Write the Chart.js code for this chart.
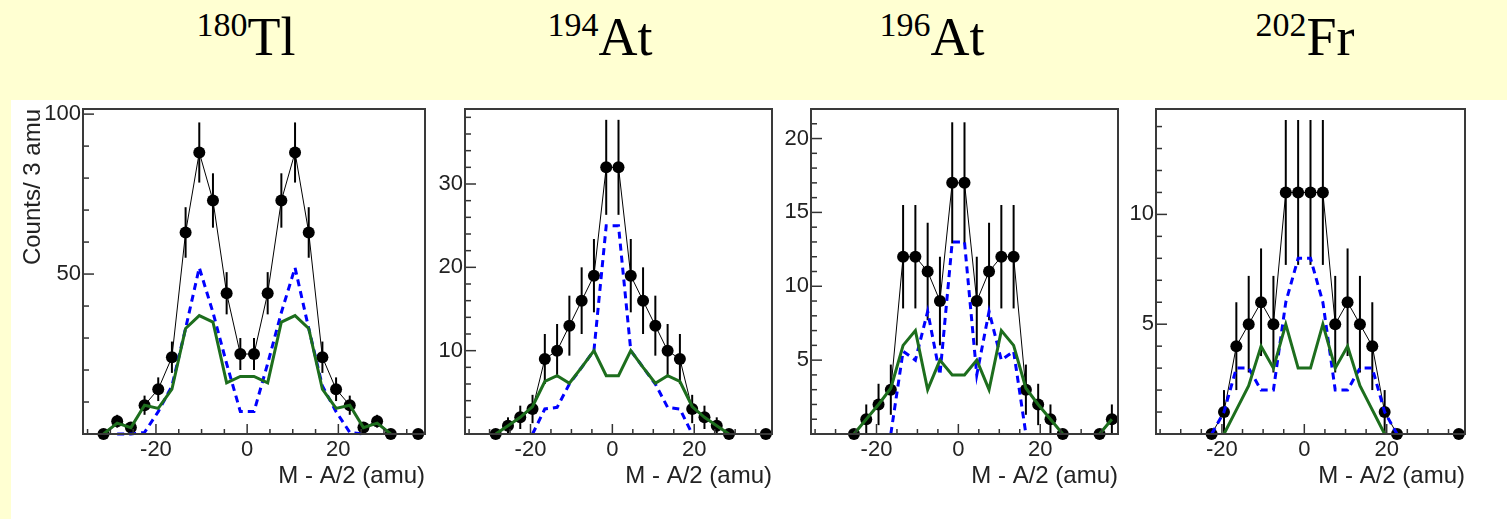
<!DOCTYPE html>
<html>
<head>
<meta charset="utf-8">
<script src="https://cdn.jsdelivr.net/npm/chart.js@4"></script>
<style>
  html, body { margin: 0; padding: 0; }
  body { width: 1507px; height: 519px; background: #ffffd2; position: relative; overflow: hidden; }
  #sheet { position: absolute; left: 11px; top: 100px; right: 0; bottom: 0; background: #fff; }
  .title { position: absolute; top: 10px; width: 240px; text-align: center;
           font-family: "Liberation Serif", "Times New Roman", serif; font-size: 54px; line-height: 1; color: #000; }
  .title sup { font-size: 34px; vertical-align: baseline; position: relative; top: -19px; }
  canvas { position: absolute; top: 100px; }
</style>
</head>
<body>
<div id="sheet"></div>
<div class="title" style="left:126px"><sup>180</sup>Tl</div>
<div class="title" style="left:480px"><sup>194</sup>At</div>
<div class="title" style="left:812px"><sup>196</sup>At</div>
<div class="title" style="left:1185px"><sup>202</sup>Fr</div>
<canvas id="p1" width="420" height="419" style="left:11px"></canvas>
<canvas id="p2" width="347" height="419" style="left:431px"></canvas>
<canvas id="p3" width="346" height="419" style="left:778px"></canvas>
<canvas id="p4" width="347" height="419" style="left:1124px"></canvas>
<script>
// bin centres (3 amu bins), shared by all four panels
const binCenters = [-34.5, -31.5, -28.5, -25.5, -22.5, -19.5, -16.5, -13.5, -10.5, -7.5, -4.5, -1.5,
                    1.5, 4.5, 7.5, 10.5, 13.5, 16.5, 19.5, 22.5, 25.5, 28.5, 31.5, 34.5, 37.5]

// 180Tl
const tlCounts = [null, 0, 4, 2, 9, 14, 24, 63, 88, 73, 44, 25, 25, 44, 73, 88, 63, 24, 14, 9, 2, 4, 0, null, 0]
const tlErrors = [null, 0, 2, 1.4, 3, 3.7, 4.9, 7.9, 9.4, 8.5, 6.6, 5, 5, 6.6, 8.5, 9.4, 7.9, 4.9, 3.7, 3, 1.4, 2, 0, null, 0]
const tlBlue   = [null, null, 0, 0, 0.5, 7, 15, 33, 52, 38, 22, 7, 7, 22, 38, 52, 33, 15, 7, 0.5, 0, null, null, null, null]
const tlGreen  = [null, 0, 3.4, 2, 9, 8, 14, 33, 37, 35, 16, 18, 18, 16, 35, 37, 33, 14, 8, 9, 2, 3.4, 0, null, null]

// 194At
const at194Counts = [null, null, 0, 1, 2, 3, 9, 10, 13, 16, 19, 32, 32, 19, 16, 13, 10, 9, 3, 2, 1, 0, null, null, 0]
const at194Errors = [null, null, 0, 1, 1.4, 1.7, 3, 3.2, 3.6, 4, 4.4, 5.7, 5.7, 4.4, 4, 3.6, 3.2, 3, 1.7, 1.4, 1, 0, null, null, 0]
const at194Blue   = [null, null, null, null, null, 0, 3, 3.2, 6, 8, 10, 25, 25, 10, 8, 6, 3.2, 3, 0, null, null, null, null, null, null]
const at194Green  = [null, null, 0, 1, 2, 3.3, 6.3, 7, 6.1, 8, 10, 7, 7, 10, 8, 6.1, 7, 6.3, 3.3, 2, 1, 0, null, null, null]

// 196At
const at196Counts = [null, null, null, 0, 1, 2, 3, 12, 12, 11, 9, 17, 17, 9, 11, 12, 12, 3, 2, 1, 0, null, null, 0, 1]
const at196Errors = [null, null, null, 0, 1, 1.4, 1.7, 3.5, 3.5, 3.3, 3, 4.1, 4.1, 3, 3.3, 3.5, 3.5, 1.7, 1.4, 1, 0, null, null, 0, 1]
const at196Blue   = [null, null, null, null, null, null, 0, 5.6, 5, 8.3, 4, 13, 13, 4, 8.3, 5, 5.6, 0, null, null, null, null, null, null, null]
const at196Green  = [null, null, null, 0, 1, 2, 3.1, 6, 7, 3, 5, 4, 4, 5, 3, 7, 6, 3.1, 2, 1, 0, null, null, 0, 1]

// 202Fr
const fr202Counts = [null, null, null, null, 0, 1, 4, 5, 6, 5, 11, 11, 11, 11, 5, 6, 5, 4, 1, 0, null, null, null, null, 0]
const fr202Errors = [null, null, null, null, 0, 1, 2, 2.2, 2.45, 2.2, 3.3, 3.3, 3.3, 3.3, 2.2, 2.45, 2.2, 2, 1, 0, null, null, null, null, 0]
const fr202Blue   = [null, null, null, null, 0, 1, 3, 3, 2, 2, 6, 8, 8, 6, 2, 2, 3, 3, 1, 0, null, null, null, null, null]
const fr202Green  = [null, null, null, null, null, 0, 1.1, 2.2, 4, 3, 5, 3, 3, 5, 3, 4, 2.2, 1.1, 0, null, null, null, null, null, null]

// axis ticks (minor + major); labels only on the majors
const xRange = [-36, 39]
const xTicks = [-35, -30, -25, -20, -15, -10, -5, 0, 5, 10, 15, 20, 25, 30, 35]
const tlYTicks = [10, 20, 30, 40, 50, 60, 70, 80, 90, 100]
const at194YTicks = [2, 4, 6, 8, 10, 12, 14, 16, 18, 20, 22, 24, 26, 28, 30, 32, 34, 36, 38]
const at196YTicks = [1, 2, 3, 4, 5, 6, 7, 8, 9, 10, 11, 12, 13, 14, 15, 16, 17, 18, 19, 20, 21]
const fr202YTicks = [1, 2, 3, 4, 5, 6, 7, 8, 9, 10, 11, 12, 13, 14]

const xTitle = "M - A/2 (amu)"
const yTitle = "Counts/ 3 amu"

const textColor = "#222"
const sans = "'Liberation Sans', Arial, Helvetica, sans-serif"

const toPoints = (vals) => binCenters.map((x, i) => ({ x: x, y: vals[i] }))

// frame, inward tick marks and error bars, drawn with the chart's own scales
const panelDecor = {
  id: "panelDecor",
  beforeDatasetsDraw(chart) {
    const { ctx, scales: { x, y } } = chart
    const ds = chart.data.datasets[0]
    ctx.save()
    ctx.strokeStyle = "#000"
    ctx.lineWidth = 2
    ds.data.forEach((p, i) => {
      const e = ds.errors[i]
      if (p.y == null || !e) return
      const px = x.getPixelForValue(p.x)
      ctx.beginPath()
      ctx.moveTo(px, y.getPixelForValue(p.y - e))
      ctx.lineTo(px, y.getPixelForValue(p.y + e))
      ctx.stroke()
    })
    ctx.restore()
  },
  afterDraw(chart) {
    const { ctx, chartArea: a, scales: { x, y } } = chart
    const o = chart.options.plugins.panelDecor
    ctx.save()
    ctx.strokeStyle = "#333"
    ctx.lineWidth = 1.5
    x.ticks.forEach(t => {
      const px = x.getPixelForValue(t.value)
      const len = t.value % o.xMajor === 0 ? 10 : 5
      ctx.beginPath()
      ctx.moveTo(px, a.bottom)
      ctx.lineTo(px, a.bottom - len)
      ctx.stroke()
    })
    y.ticks.forEach(t => {
      const py = y.getPixelForValue(t.value)
      const len = t.value % o.yMajor === 0 ? 11 : 6
      ctx.beginPath()
      ctx.moveTo(a.left, py)
      ctx.lineTo(a.left + len, py)
      ctx.stroke()
    })
    ctx.lineWidth = 2
    ctx.strokeStyle = "#3a3a3a"
    ctx.strokeRect(a.left, a.top, a.right - a.left, a.bottom - a.top)
    ctx.restore()
  }
}

const noScalePadding = s => {
  s.paddingTop = 0
  s.paddingBottom = 0
  s.paddingLeft = 0
  s.paddingRight = 0
}

function makePanel(id, counts, errors, blue, green, opts) {
  return new Chart(document.getElementById(id), {
    type: "scatter",
    data: {
      datasets: [{
        data: toPoints(counts),
        errors: errors,
        showLine: true,
        borderColor: "#000",
        borderWidth: 1,
        pointRadius: 6,
        pointBackgroundColor: "#000",
        pointBorderColor: "#000",
        pointBorderWidth: 0,
        order: 3,
        clip: false
      }, {
        data: toPoints(blue),
        showLine: true,
        borderColor: "#0000ff",
        borderWidth: 3,
        borderDash: [7, 5],
        pointRadius: 0,
        order: 2,
        clip: false
      }, {
        data: toPoints(green),
        showLine: true,
        borderColor: "#1d6e1d",
        borderWidth: 3,
        pointRadius: 0,
        order: 1,
        clip: false
      }]
    },
    options: {
      responsive: false,
      animation: false,
      events: [],
      layout: { padding: { left: 0, top: 9, right: 5, bottom: 0 } },
      plugins: {
        legend: { display: false },
        tooltip: { enabled: false },
        panelDecor: { xMajor: 20, yMajor: opts.yMajor }
      },
      scales: {
        x: {
          type: "linear",
          position: "bottom",
          min: xRange[0],
          max: xRange[1],
          grid: { display: false, drawTicks: false },
          border: { display: false },
          afterBuildTicks: s => { s.ticks = xTicks.map(v => ({ value: v })) },
          ticks: {
            autoSkip: false,
            maxRotation: 0,
            padding: 3,
            color: textColor,
            font: { family: sans, size: 22 },
            callback: v => (v % 20 === 0 ? String(v) : "")
          },
          title: {
            display: true,
            text: xTitle,
            align: "end",
            color: textColor,
            font: { family: sans, size: 24 },
            padding: { top: 0, bottom: 28 }
          },
          afterFit: s => { noScalePadding(s); s.height = 85 }
        },
        y: {
          type: "linear",
          position: "left",
          min: 0,
          max: opts.yMax,
          grid: { display: false, drawTicks: false },
          border: { display: false },
          afterBuildTicks: s => { s.ticks = opts.yTicks.map(v => ({ value: v })) },
          ticks: {
            autoSkip: false,
            padding: 2,
            color: textColor,
            font: { family: sans, size: 22 },
            callback: v => (v % opts.yMajor === 0 ? String(v) : "")
          },
          title: {
            display: !!opts.showYTitle,
            text: yTitle,
            align: "end",
            color: textColor,
            font: { family: sans, size: 24 },
            padding: { top: 8, bottom: 0 }
          },
          afterFit: s => { noScalePadding(s); s.width = opts.yWidth }
        }
      }
    },
    plugins: [panelDecor]
  })
}

makePanel("p1", tlCounts, tlErrors, tlBlue, tlGreen, { yMax: 101.6, yTicks: tlYTicks, yMajor: 50, yWidth: 72, showYTitle: true })
makePanel("p2", at194Counts, at194Errors, at194Blue, at194Green, { yMax: 39, yTicks: at194YTicks, yMajor: 10, yWidth: 34 })
makePanel("p3", at196Counts, at196Errors, at196Blue, at196Green, { yMax: 22, yTicks: at196YTicks, yMajor: 5, yWidth: 33 })
makePanel("p4", fr202Counts, fr202Errors, fr202Blue, fr202Green, { yMax: 14.8, yTicks: fr202YTicks, yMajor: 5, yWidth: 32 })
</script>
</body>
</html>
